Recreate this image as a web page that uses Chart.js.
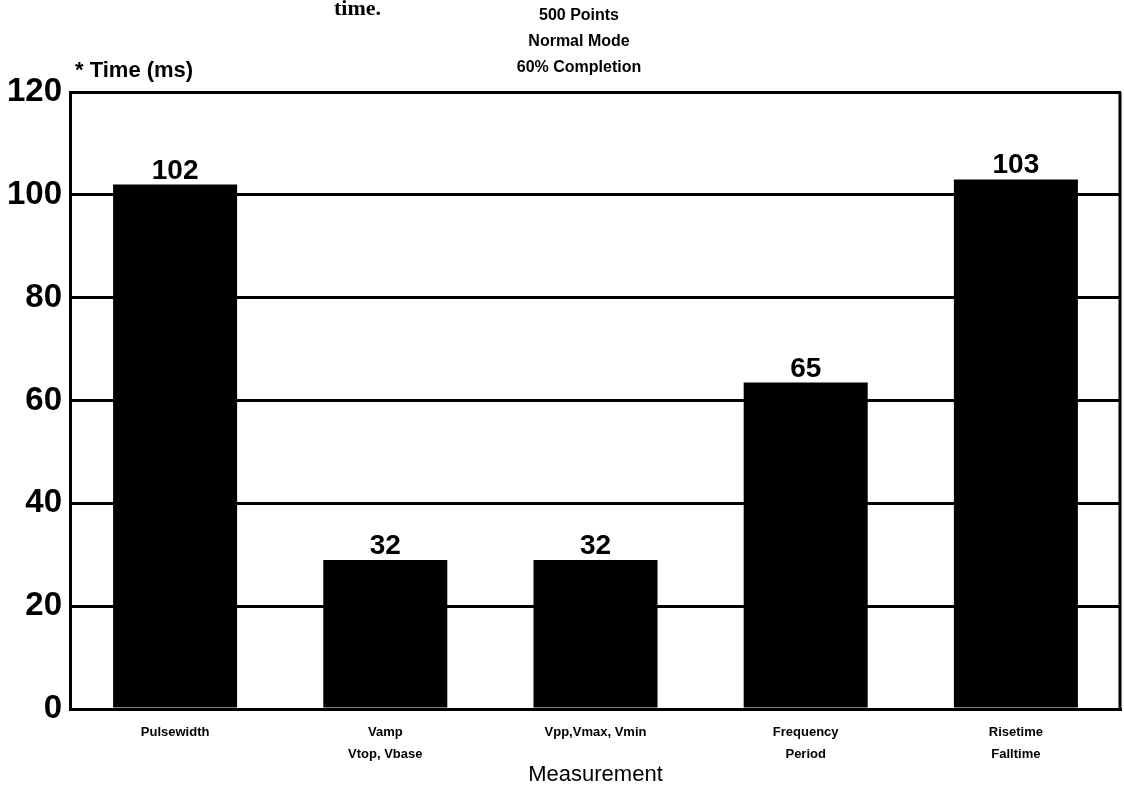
<!DOCTYPE html>
<html lang="en">
<head>
    <meta charset="UTF-8">
    <title>Measurement Time</title>
    <script src="https://cdn.jsdelivr.net/npm/chart.js"></script>
    <style>
        html, body { margin: 0; padding: 0; background: #fff; }
        #wrap { width: 1124px; height: 788px; position: relative; }
    </style>
</head>
<body>
    <div id="wrap"><canvas id="timeChart"></canvas></div>

    <script>
        // Data
        const categories = [
            ['Pulsewidth'],
            ['Vamp', 'Vtop, Vbase'],
            ['Vpp,Vmax, Vmin'],
            ['Frequency', 'Period'],
            ['Risetime', 'Falltime']
        ];
        const barHeights = [102, 29, 29, 63.5, 103];   // bar tops as drawn
        const barLabels = ['102', '32', '32', '65', '103']; // numbers printed above bars
        const yTicks = [0, 20, 40, 60, 80, 100, 120];
        const noteLines = ['500 Points', 'Normal Mode', '60% Completion'];

        const sans = '"Liberation Sans", Arial, Helvetica, sans-serif';

        // Frame, value labels and header text
        const decorPlugin = {
            id: 'decor',
            afterDatasetsDraw(chart) {
                const ctx = chart.ctx;
                const area = chart.chartArea;
                const meta = chart.getDatasetMeta(0);
                ctx.save();
                ctx.fillStyle = '#000';
                ctx.textAlign = 'center';
                ctx.textBaseline = 'alphabetic';
                ctx.font = 'bold 28px ' + sans;
                meta.data.forEach((bar, i) => {
                    ctx.fillText(barLabels[i], bar.x, bar.y - 6);
                });

                // right border
                ctx.strokeStyle = '#000';
                ctx.lineWidth = 3;
                ctx.beginPath();
                ctx.moveTo(area.right - 1, area.top);
                ctx.lineTo(area.right - 1, area.bottom);
                ctx.stroke();

                // header notes
                ctx.font = 'bold 16px ' + sans;
                noteLines.forEach((t, i) => {
                    ctx.fillText(t, 579, 20 + i * 26);
                });
                ctx.textAlign = 'left';
                ctx.font = 'bold 22px ' + sans;
                ctx.fillText('* Time (ms)', 75, 77);
                ctx.font = 'bold 22px "Liberation Serif", "DejaVu Serif", serif';
                ctx.fillText('time.', 334, 15);
                ctx.restore();
            }
        };

        const ctx = document.getElementById('timeChart').getContext('2d');
        const timeChart = new Chart(ctx, {
            type: 'bar',
            data: {
                labels: categories,
                datasets: [{
                    data: barHeights,
                    backgroundColor: '#000',
                    borderWidth: 0,
                    barPercentage: 0.59,
                    categoryPercentage: 1.0
                }]
            },
            options: {
                responsive: true,
                maintainAspectRatio: false,
                animation: false,
                layout: { padding: { top: 92, right: 3, left: 0, bottom: 0 } },
                plugins: {
                    legend: { display: false },
                    tooltip: { enabled: false }
                },
                scales: {
                    x: {
                        grid: { display: false },
                        border: { display: true, color: '#000', width: 3 },
                        ticks: {
                            color: '#000',
                            font: { family: sans, size: 13, weight: 'bold', lineHeight: 1.7 },
                            padding: 4,
                            maxRotation: 0,
                            autoSkip: false
                        },
                        title: {
                            display: true,
                            text: 'Measurement',
                            color: '#000',
                            font: { family: sans, size: 22 },
                            padding: { top: 0, bottom: 0 }
                        },
                        afterFit(scale) { scale.height = 79; }
                    },
                    y: {
                        min: 0,
                        max: 120,
                        afterBuildTicks(scale) {
                            scale.ticks = yTicks.map(v => ({ value: v }));
                        },
                        grid: { color: '#000', lineWidth: 3, drawTicks: false },
                        border: { display: true, color: '#000', width: 3 },
                        ticks: {
                            color: '#000',
                            font: { family: sans, size: 33, weight: 'bold' },
                            padding: 8
                        },
                        afterFit(scale) { scale.width = 70; }
                    }
                }
            },
            plugins: [decorPlugin]
        });
    </script>
</body>
</html>
